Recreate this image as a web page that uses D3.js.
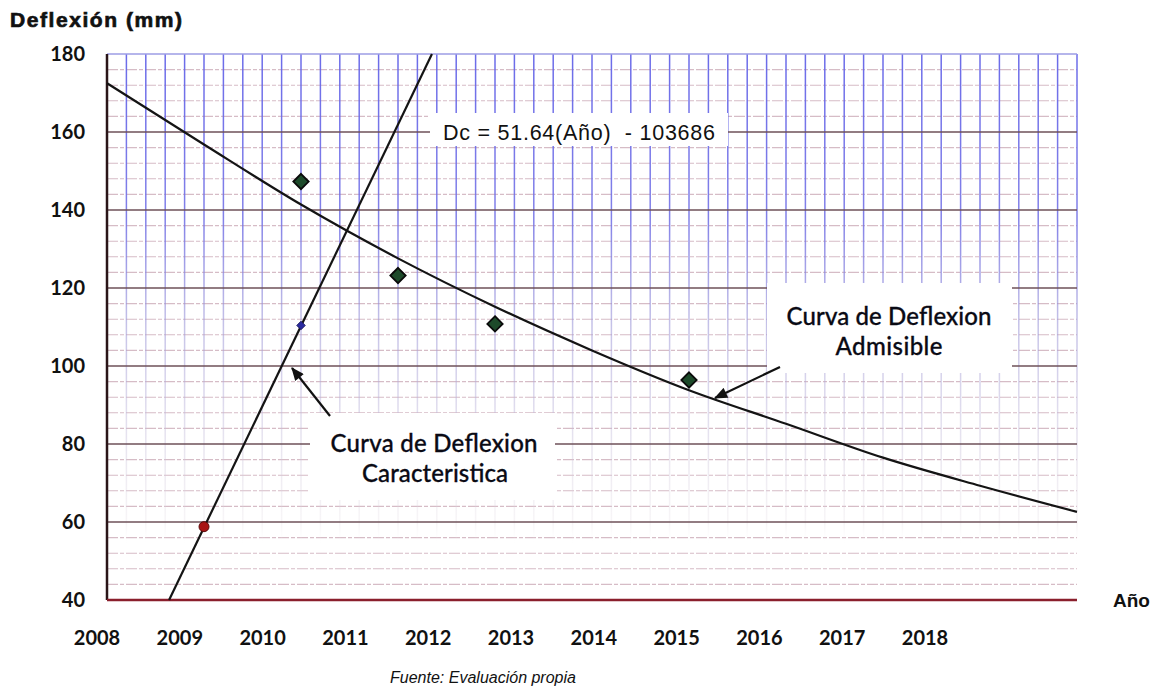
<!DOCTYPE html>
<html lang="es">

<head>
    <meta charset="UTF-8">
    <title>Deflexion</title>
    <script src="https://d3js.org/d3.v7.min.js"></script>
    <style>
        body { margin: 0; background: #fff; }
    </style>
</head>

<body>
    <svg id="chart" width="1168" height="691"></svg>
    <script>
        // data
        var years = [2008, 2009, 2010, 2011, 2012, 2013, 2014, 2015, 2016, 2017, 2018];
        var admisible = [172.5, 156.8, 141.4, 127.6, 115.2, 104.0, 93.8, 85.2, 76.5, 69.3, 62.6];
        var medidoYears = [2010, 2011, 2012, 2014];
        var medido = [147.3, 123.2, 110.8, 96.4];
        var rojoYears = [2009];
        var rojo = [58.8];
        var azulYears = [2010];
        var azul = [110.4];
        var trendYears = [2008.64, 2011.35];
        var trendVals = [40, 180];
        var xLabels = ["2008", "2009", "2010", "2011", "2012", "2013", "2014", "2015", "2016", "2017", "2018"];

        // plot edges (window.top is taken, so pLeft... names)
        var pLeft = 107, pRight = 1077, pTop = 54, pBottom = 600;

        var svg = d3.select("#chart");
        var x = d3.scaleLinear().domain([2008, 2018]).range([pLeft, pRight]);
        var y = d3.scaleLinear().domain([40, 180]).range([pBottom, pTop]);
        // the year labels in the original do not sit under the plot years
        var xl = d3.scalePoint().domain(xLabels).range([97, 925]);

        var defs = svg.append("defs");
        var grad = defs.append("linearGradient")
            .attr("id", "vgrad")
            .attr("gradientUnits", "userSpaceOnUse")
            .attr("x1", 0).attr("y1", pTop).attr("x2", 0).attr("y2", pBottom);
        [[0, "#6464e8", 0.95], [0.3, "#7472e6", 0.9], [0.5, "#a09ad8", 0.6],
         [0.75, "#d0c8dc", 0.4], [0.86, "#e0d8e0", 0.25], [0.9, "#ffffff", 0]].forEach(function (s) {
            grad.append("stop").attr("offset", s[0]).attr("stop-color", s[1]).attr("stop-opacity", s[2]);
        });

        defs.append("marker")
            .attr("id", "arrow")
            .attr("viewBox", "0 0 12 10")
            .attr("refX", 11).attr("refY", 5)
            .attr("markerWidth", 14).attr("markerHeight", 11)
            .attr("markerUnits", "userSpaceOnUse")
            .attr("orient", "auto")
            .append("path").attr("d", "M0,0 L12,5 L0,10 z").attr("fill", "#111");

        // minor horizontal lines every 4
        var minorY = d3.range(44, 180, 4).filter(function (d) { return d % 20 !== 0; });
        svg.append("g").selectAll("line").data(minorY).enter().append("line")
            .attr("x1", pLeft).attr("x2", pRight)
            .attr("y1", function (d) { return y(d); })
            .attr("y2", function (d) { return y(d); })
            .attr("stroke", "#d6bcc6")
            .attr("stroke-width", 1.1)
            .attr("stroke-dasharray", "11,2,4,2");

        // vertical lines every 0.2 year
        var minorX = d3.range(1, 51).map(function (i) { return 2008 + i * 0.2; });
        svg.append("g").selectAll("line").data(minorX).enter().append("line")
            .attr("x1", function (d) { return x(d); })
            .attr("x2", function (d) { return x(d); })
            .attr("y1", pTop).attr("y2", pBottom)
            .attr("stroke", "url(#vgrad)")
            .attr("stroke-width", 1.5);

        // major horizontal lines
        svg.append("g").selectAll("line").data(y.ticks(7).filter(function (d) { return d > 40 && d < 180; }))
            .enter().append("line")
            .attr("x1", pLeft).attr("x2", pRight)
            .attr("y1", function (d) { return y(d); })
            .attr("y2", function (d) { return y(d); })
            .attr("stroke", "#6e5058")
            .attr("stroke-width", 1.6);

        // frame
        svg.append("line").attr("x1", pLeft).attr("x2", pRight).attr("y1", pTop).attr("y2", pTop)
            .attr("stroke", "#9c9ce4").attr("stroke-width", 1.5);
        svg.append("line").attr("x1", pLeft).attr("x2", pLeft).attr("y1", pTop).attr("y2", pBottom)
            .attr("stroke", "#2a1518").attr("stroke-width", 2.5);
        svg.append("line").attr("x1", pLeft).attr("x2", pRight).attr("y1", pBottom).attr("y2", pBottom)
            .attr("stroke", "#8a1f2c").attr("stroke-width", 2.5);

        // white label boxes that cover the grid
        var boxes = [[430, 113, 298, 33], [310, 413, 245, 87], [767, 283, 245, 90]];
        svg.append("g").selectAll("rect").data(boxes).enter().append("rect")
            .attr("x", function (d) { return d[0]; })
            .attr("y", function (d) { return d[1]; })
            .attr("width", function (d) { return d[2]; })
            .attr("height", function (d) { return d[3]; })
            .attr("fill", "#fff");

        // admissible curve
        var line = d3.line()
            .x(function (d, i) { return x(years[i]); })
            .y(function (d) { return y(d); })
            .curve(d3.curveMonotoneX);
        svg.append("path").datum(admisible)
            .attr("d", line)
            .attr("fill", "none")
            .attr("stroke", "#141414")
            .attr("stroke-width", 2.2);

        // characteristic trend line
        var tline = d3.line()
            .x(function (d, i) { return x(trendYears[i]); })
            .y(function (d) { return y(d); });
        svg.append("path").datum(trendVals)
            .attr("d", tline)
            .attr("fill", "none")
            .attr("stroke", "#141414")
            .attr("stroke-width", 2.2);

        // markers
        svg.append("g").selectAll("path").data(medido).enter().append("path")
            .attr("d", d3.symbol().type(d3.symbolDiamond2).size(150))
            .attr("transform", function (d, i) { return "translate(" + x(medidoYears[i]) + "," + y(d) + ")"; })
            .attr("fill", "#1d4a2a")
            .attr("stroke", "#0a0a0a")
            .attr("stroke-width", 1.8);

        svg.append("g").selectAll("path").data(azul).enter().append("path")
            .attr("d", d3.symbol().type(d3.symbolDiamond2).size(45))
            .attr("transform", function (d, i) { return "translate(" + x(azulYears[i]) + "," + y(d) + ")"; })
            .attr("fill", "#2a2aa0")
            .attr("stroke", "#1a1a60")
            .attr("stroke-width", 1);

        svg.append("g").selectAll("circle").data(rojo).enter().append("circle")
            .attr("cx", function (d, i) { return x(rojoYears[i]); })
            .attr("cy", function (d) { return y(d); })
            .attr("r", 5)
            .attr("fill", "#a81414")
            .attr("stroke", "#5a0a0a")
            .attr("stroke-width", 1);

        // arrows
        svg.append("line").attr("x1", 330).attr("y1", 416).attr("x2", 292).attr("y2", 368)
            .attr("stroke", "#111").attr("stroke-width", 2.2).attr("marker-end", "url(#arrow)");
        svg.append("line").attr("x1", 780).attr("y1", 367).attr("x2", 715).attr("y2", 398)
            .attr("stroke", "#111").attr("stroke-width", 2.2).attr("marker-end", "url(#arrow)");

        // y tick labels
        svg.append("g").selectAll("text").data(y.ticks(7)).enter().append("text")
            .attr("x", 85)
            .attr("y", function (d) { return y(d) + 7; })
            .attr("text-anchor", "end")
            .attr("font-family", "Lato, sans-serif")
            .attr("font-weight", 700)
            .attr("font-size", 20)
            .attr("fill", "#111")
            .text(function (d) { return d; });

        // x labels
        svg.append("g").selectAll("text").data(xLabels).enter().append("text")
            .attr("x", function (d) { return xl(d); })
            .attr("y", 645)
            .attr("text-anchor", "middle")
            .attr("font-family", "Lato, sans-serif")
            .attr("font-weight", 700)
            .attr("font-size", 20)
            .attr("fill", "#111")
            .text(function (d) { return d; });

        svg.append("text")
            .attr("x", 10).attr("y", 27)
            .attr("font-family", "Liberation Sans, Arial, sans-serif")
            .attr("font-weight", 700)
            .attr("font-size", 21)
            .attr("stroke", "#111")
            .attr("stroke-width", 0.7)
            .attr("textLength", 172)
            .attr("fill", "#111")
            .text("Deflexión (mm)");

        svg.append("text")
            .attr("x", 1113).attr("y", 607)
            .attr("font-family", "Liberation Sans, Arial, sans-serif")
            .attr("font-weight", 700)
            .attr("font-size", 19)
            .attr("fill", "#111")
            .text("Año");

        svg.append("text")
            .attr("x", 483).attr("y", 683)
            .attr("text-anchor", "middle")
            .attr("font-family", "Liberation Sans, Arial, sans-serif")
            .attr("font-style", "italic")
            .attr("font-size", 16)
            .attr("fill", "#111")
            .text("Fuente: Evaluación propia");

        // equation
        svg.append("text")
            .attr("x", 443).attr("y", 140)
            .attr("font-family", "Liberation Sans, Arial, sans-serif")
            .attr("font-size", 21.5)
            .attr("textLength", 272)
            .attr("fill", "#111")
            .attr("xml:space", "preserve")
            .text("Dc = 51.64(Año)  - 103686");

        // curve notes
        var notes = [
            ["Curva de Deflexion", 434, 452, 207],
            ["Caracteristica", 435, 482, 146],
            ["Curva de Deflexion", 889, 325, 205],
            ["Admisible", 889, 355, 107]
        ];
        svg.append("g").selectAll("text").data(notes).enter().append("text")
            .attr("x", function (d) { return d[1]; })
            .attr("y", function (d) { return d[2]; })
            .attr("text-anchor", "middle")
            .attr("textLength", function (d) { return d[3]; })
            .attr("font-family", "Lato, sans-serif")
            .attr("font-weight", 500)
            .attr("font-size", 24)
            .attr("fill", "#0a0a14")
            .attr("stroke", "#0a0a14")
            .attr("stroke-width", 0.3)
            .text(function (d) { return d[0]; });
    </script>
</body>

</html>
